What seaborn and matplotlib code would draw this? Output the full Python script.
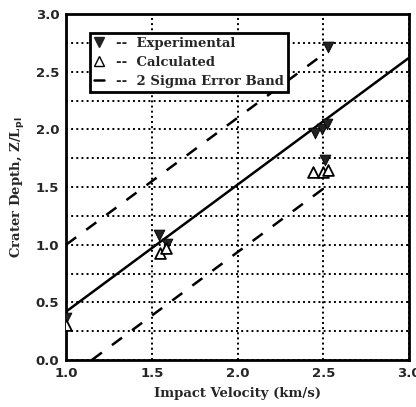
import numpy as np
import pandas as pd
import matplotlib
matplotlib.use("Agg")
import matplotlib.pyplot as plt
import seaborn as sns
from matplotlib.lines import Line2D

exp_v = [1.0, 1.54, 1.59, 2.45, 2.49, 2.52, 2.51, 2.53]
exp_z = [0.36, 1.08, 1.01, 1.97, 2.0, 2.05, 1.73, 2.71]
calc_v = [1.0, 1.55, 1.58, 2.44, 2.5, 2.53]
calc_z = [0.30, 0.93, 0.97, 1.63, 1.63, 1.65]

# fit line and 2-sigma band ends
fit_v = [1.0, 3.0]
fit_z = [0.42, 2.62]
upper_v = [1.0, 2.5]
upper_z = [1.0, 2.65]
lower_v = [1.15, 2.55]
lower_z = [0.0, 1.54]

sns.set_style("white")
plt.rcParams['font.family'] = ['DejaVu Serif']
plt.rcParams['font.weight'] = 'bold'

fig = plt.figure(figsize=(4.16, 4.07), dpi=100)
ax = fig.add_axes([0.159, 0.1155, 0.824, 0.85])

exp_df = pd.DataFrame({'v': exp_v, 'z': exp_z})
calc_df = pd.DataFrame({'v': calc_v, 'z': calc_z})

sns.lineplot(x=fit_v, y=fit_z, ax=ax, color='black', linewidth=1.8, zorder=3)
sns.lineplot(x=upper_v, y=upper_z, ax=ax, color='black', linewidth=1.8,
             linestyle=(0, (5, 5)), zorder=3)
sns.lineplot(x=lower_v, y=lower_z, ax=ax, color='black', linewidth=1.8,
             linestyle=(0, (5, 5)), zorder=3)
sns.scatterplot(data=exp_df, x='v', y='z', ax=ax, marker='v', s=60,
                color='#222222', edgecolor='black', zorder=4)
sns.scatterplot(data=calc_df, x='v', y='z', ax=ax, marker='^', s=60,
                facecolor='white', edgecolor='black', linewidth=1.3, zorder=4)

ax.set_xlim(1.0, 3.0)
ax.set_ylim(0.0, 3.0)
ax.set_xticks([1.0, 1.5, 2.0, 2.5, 3.0])
ax.set_yticks([0.0, 0.5, 1.0, 1.5, 2.0, 2.5, 3.0])
ax.set_yticks(np.arange(0.25, 3.0, 0.5), minor=True)
ax.set_xticklabels(['1.0', '1.5', '2.0', '2.5', '3.0'], fontweight='bold',
                   fontsize=9.5, family='DejaVu Sans')
ax.set_yticklabels(['0.0', '0.5', '1.0', '1.5', '2.0', '2.5', '3.0'], fontweight='bold',
                   fontsize=9.5, family='DejaVu Sans')
ax.tick_params(which='both', direction='in', length=3, width=1.2, pad=5)
ax.grid(True, which='major', color='black', linestyle=':', linewidth=1.4)
ax.grid(True, which='minor', axis='y', color='black', linestyle=':', linewidth=1.4)
for sp in ax.spines.values():
    sp.set_linewidth(2)
    sp.set_color('black')

ax.set_xlabel('Impact Velocity (km/s)', fontsize=9.5, fontweight='bold', labelpad=5)
ax.set_ylabel('Crater Depth, Z/L$_{\\mathbf{pl}}$', fontsize=9.5, fontweight='bold', labelpad=6)

handles = [
    Line2D([], [], marker='v', color='#222222', linestyle='none', markersize=7),
    Line2D([], [], marker='^', markerfacecolor='white', markeredgecolor='black',
           linestyle='none', markersize=7),
    Line2D([], [], color='black', linestyle='-', linewidth=1.8),
]
labels = ['--  Experimental', '--  Calculated', '--  2 Sigma Error Band']
leg = ax.legend(handles, labels, loc='upper left', bbox_to_anchor=(0.05, 0.965),
                frameon=True, fancybox=False, edgecolor='black', framealpha=1,
                prop={'weight': 'bold', 'size': 9.5}, handlelength=0.8,
                handletextpad=0.9, borderpad=0.3, labelspacing=0.45)
leg.get_frame().set_linewidth(2)
leg.set_zorder(5)

fig.savefig('out.png', dpi=100)
